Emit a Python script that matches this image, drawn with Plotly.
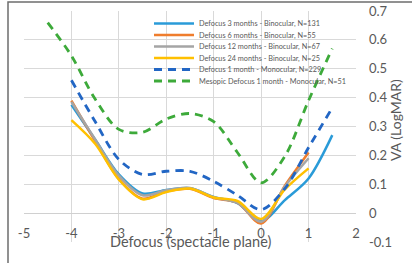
import plotly.graph_objects as go

# ---- data ----
defocus = [-4, -3.5, -3, -2.5, -2, -1.5, -1, -0.5, 0, 0.5, 1, 1.5]
defocus_b = [-4, -3.5, -3, -2.5, -2, -1.5, -1, -0.5, 0, 0.5, 1]
defocus_mes = [-4.5, -4, -3.5, -3, -2.5, -2, -1.5, -1, -0.5, 0, 0.5, 1, 1.5]

va_3m = [0.375, 0.255, 0.134, 0.068, 0.08, 0.086, 0.056, 0.035, -0.028, 0.045, 0.12, 0.27]
va_6m = [0.39, 0.25, 0.118, 0.05, 0.076, 0.084, 0.052, 0.036, -0.036, 0.095, 0.21]
va_12m = [0.385, 0.255, 0.13, 0.062, 0.079, 0.087, 0.055, 0.036, -0.03, 0.092, 0.19]
va_24m = [0.322, 0.24, 0.116, 0.048, 0.073, 0.085, 0.054, 0.042, -0.02, 0.082, 0.155]
va_mono = [0.46, 0.317, 0.186, 0.134, 0.145, 0.145, 0.11, 0.062, 0.012, 0.085, 0.227, 0.365]
va_mes = [0.66, 0.545, 0.395, 0.29, 0.28, 0.326, 0.345, 0.317, 0.21, 0.105, 0.197, 0.39, 0.57]

names = [
    "Defocus 3 months - Binocular, N=131",
    "Defocus 6 months - Binocular, N=55",
    "Defocus 12 months - Binocular, N=67",
    "Defocus 24 months - Binocular, N=25",
    "Defocus 1 month - Monocular, N=229",
    "Mesopic Defocus 1 month - Monocular, N=51",
]
x_ticks = [-5, -4, -3, -2, -1, 0, 1, 2]
y_ticks = [-0.1, 0, 0.1, 0.2, 0.3, 0.4, 0.5, 0.6, 0.7]
y_ticklabels = ["-0.1", "0", "0.1", "0.2", "0.3", "0.4", "0.5", "0.6", "0.7"]

series = [
    (defocus, va_3m, "#2A9BD8", "solid", 2.5),
    (defocus_b, va_6m, "#EF7D2D", "solid", 2.5),
    (defocus_b, va_12m, "#A5A5A5", "solid", 2.5),
    (defocus_b, va_24m, "#FFC000", "solid", 2.5),
    (defocus, va_mono, "#2266C4", "8px,6px", 2.8),
    (defocus_mes, va_mes, "#3DAA3A", "8px,6px", 2.8),
]

W, H = 412, 263
L, R, T, B = 24, 56, 11, 21
pw, ph = W - L - R, H - T - B

fig = go.Figure()
legend_rows = [23.5, 35, 46.5, 58, 69.5, 81]
for i, ((xs, ys, col, dash, lw), nm) in enumerate(zip(series, names)):
    lg = "legend" if i == 0 else f"legend{i+1}"
    fig.add_trace(go.Scatter(
        x=xs, y=ys, name=nm, mode="lines",
        line=dict(color=col, width=lw, dash=dash, shape="spline", smoothing=0.9),
        legend=lg,
    ))

font = "Lato, 'Open Sans', sans-serif"
layout = dict(
    width=W, height=H,
    margin=dict(l=L, r=R, t=T, b=B, pad=0, autoexpand=False),
    paper_bgcolor="white", plot_bgcolor="white",
    font=dict(family=font, color="#595959"),
    xaxis=dict(
        range=[-5, 2], tickvals=x_ticks, ticktext=[str(v) for v in x_ticks],
        showgrid=True, gridcolor="#D9D9D9", gridwidth=1,
        zeroline=False, showline=False, ticks="",
        anchor="free", position=(0.1) / 0.8, ticklabelstandoff=11,
        tickfont=dict(size=13, color="#595959"),
    ),
    yaxis=dict(
        range=[-0.1, 0.7], tickvals=y_ticks, ticktext=y_ticklabels,
        side="right", showgrid=True, gridcolor="#D9D9D9", gridwidth=1,
        zeroline=True, zerolinecolor="#D0D0D0", zerolinewidth=1,
        showline=False, ticks="", ticklabelstandoff=12,
        tickfont=dict(size=13, color="#595959"),
    ),
    showlegend=True,
    annotations=[
        dict(text="Defocus (spectacle plane)", xref="paper", yref="paper",
             x=(190 - L) / pw, y=1 - (241 - T) / ph, xanchor="center", yanchor="middle",
             showarrow=False, font=dict(size=14.5, color="#595959", family=font)),
        dict(text="VA (LogMAR)", xref="paper", yref="paper", textangle=-90,
             x=(395 - L) / pw, y=1 - (120 - T) / ph, xanchor="center", yanchor="middle",
             showarrow=False, font=dict(size=14, color="#595959", family=font)),
    ],
    shapes=[
        dict(type="rect", xref="paper", yref="paper",
             x0=(8 - L) / pw, x1=1.6, y0=-0.5, y1=1 + (T - 2) / ph,
             line=dict(color="#6E6E6E", width=1.5), fillcolor="rgba(0,0,0,0)", layer="above"),
    ],
)
for i, py in enumerate(legend_rows):
    key = "legend" if i == 0 else f"legend{i+1}"
    layout[key] = dict(
        x=(149 - L) / pw, y=1 - (py - T) / ph, xanchor="left", yanchor="middle",
        bgcolor="rgba(0,0,0,0)", borderwidth=0,
        font=dict(size=7.3, color="#595959", family=font),
        itemwidth=40, tracegroupgap=0,
    )
fig.update_layout(**layout)
fig.write_html("out.html", config={"displayModeBar": False},
               post_script="document.body.style.margin='0';")
